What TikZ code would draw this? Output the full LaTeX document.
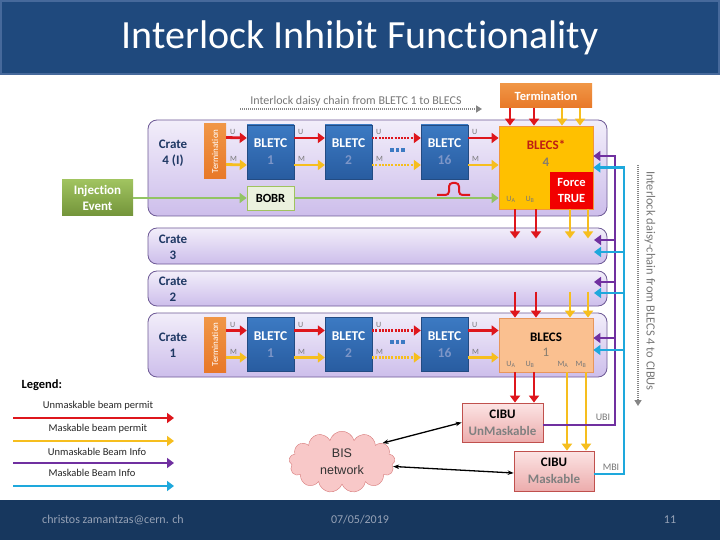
\documentclass[tikz,border=0pt]{standalone}
\usepackage{fontspec}
\setmainfont{Carlito}[Ligatures={NoCommon}]
\newfontfamily\arialf{Liberation Sans}
\usetikzlibrary{arrows.meta,shapes.symbols,calc}
\definecolor{cred}{RGB}{222,22,28}
\definecolor{cyel}{RGB}{246,190,30}
\definecolor{cpur}{RGB}{112,48,160}
\definecolor{ccya}{RGB}{30,168,220}
\definecolor{cgreen}{RGB}{146,196,100}
\definecolor{titlebg}{RGB}{31,73,125}
\definecolor{titlebd}{RGB}{70,105,155}
\definecolor{footbg}{RGB}{23,55,94}
\definecolor{foottx}{RGB}{150,162,182}
\definecolor{crateB}{RGB}{110,90,150}
\definecolor{crateT}{RGB}{242,238,250}
\definecolor{crateBo}{RGB}{205,190,235}
\definecolor{crateTxt}{RGB}{31,56,100}
\definecolor{termO}{RGB}{232,120,40}
\definecolor{termT}{RGB}{240,150,70}
\definecolor{bletcT}{RGB}{60,122,195}
\definecolor{bletcBo}{RGB}{40,92,160}
\definecolor{bletcB}{RGB}{35,75,130}
\definecolor{bletcN}{RGB}{125,150,200}
\definecolor{blecsS}{RGB}{255,192,0}
\definecolor{blecsSB}{RGB}{240,150,60}
\definecolor{blecsO}{RGB}{250,192,144}
\definecolor{blecsOB}{RGB}{232,150,90}
\definecolor{blecsTx}{RGB}{190,30,20}
\definecolor{numgray}{RGB}{135,125,110}
\definecolor{cibuT}{RGB}{252,228,228}
\definecolor{cibuBo}{RGB}{236,172,172}
\definecolor{cibuB}{RGB}{192,80,77}
\definecolor{injT}{RGB}{160,195,95}
\definecolor{injB}{RGB}{115,148,58}
\definecolor{bobrF}{RGB}{235,241,222}
\definecolor{cloudF}{RGB}{248,200,200}
\definecolor{cloudB}{RGB}{215,120,120}
\definecolor{lblgray}{RGB}{120,120,120}
\tikzset{
  crate/.style={draw=crateB, line width=0.8pt, rounded corners=9pt, top color=crateT, bottom color=crateBo, minimum width=459pt, inner sep=0pt},
  cratelbl/.style={font=\bfseries\fontsize{13}{16}\selectfont, text=crateTxt, align=center},
  termv/.style={top color=termT, bottom color=termO, minimum width=22pt, minimum height=55pt, inner sep=0pt},
  termvtext/.style={rotate=90, text=white, font=\fontsize{9}{9}\selectfont},
  bletc/.style={draw=bletcB, top color=bletcT, bottom color=bletcBo, minimum width=47pt, minimum height=54pt, inner sep=0pt, align=center, font=\bfseries\fontsize{13.5}{17}\selectfont, text=white},
  tipA/.style={-{Triangle[length=7pt,width=10pt]}},
  ua/.style={draw=cred, line width=2.8pt, tipA},
  ma/.style={draw=cyel, line width=2.8pt, tipA},
  pa/.style={draw=cpur, line width=2.8pt, tipA},
  ca/.style={draw=ccya, line width=2.8pt, tipA},
  dotl/.style={dash pattern=on 2pt off 1.2pt},
  umlbl/.style={font=\fontsize{8}{8}\selectfont, text=lblgray, inner sep=0.5pt},
  sublbl/.style={font=\fontsize{8}{8}\selectfont, text=lblgray, inner sep=0pt},
  cibu/.style={draw=cibuB, line width=0.8pt, top color=cibuT, bottom color=cibuBo, inner sep=0pt, align=center, font=\bfseries\fontsize{13}{17}\selectfont},
  legtxt/.style={font=\fontsize{10.5}{11}\selectfont, text=black!85},
  blue sq/.style={fill=bletcT, minimum size=3.5pt, inner sep=0pt},
}
\begin{document}
\begin{tikzpicture}[x=1pt,y=-1pt]
\useasboundingbox (0,0) rectangle (720,540);
% bars
\fill[white] (0,0) rectangle (720,540);
\draw[fill=titlebg, draw=titlebd, line width=2pt] (1,1) rectangle (719,74);
\node[text=white, font=\fontsize{40}{40}\selectfont] (title) at (360,38) {Interlock Inhibit Functionality};
\fill[footbg] (0,500) rectangle (720,540);
\node[text=foottx, font=\fontsize{12}{12}\selectfont] (mail) at (113,520) {christos zamantzas@cern. ch};
\node[text=foottx, font=\fontsize{12}{12}\selectfont] (date) at (360,520) {07/05/2019};
\node[text=foottx, font=\fontsize{12}{12}\selectfont] (page) at (670,520) {11};

% crates
\node[crate, minimum height=96pt] (crate4) at (377.5,168) {};
\node[crate, minimum height=36pt] (crate3) at (377.5,246) {};
\node[crate, minimum height=35pt] (crate2) at (377.5,288.5) {};
\node[crate, minimum height=64pt] (crate1) at (377.5,345) {};
\node[cratelbl] (l4) at (173,153) {Crate\\4 (I)};
\node[cratelbl] (l3) at (173,247) {Crate\\3};
\node[cratelbl] (l2) at (173,289) {Crate\\2};
\node[cratelbl] (l1) at (173,345) {Crate\\1};

% top label
\node[text=lblgray, font=\fontsize{12}{12}\selectfont] (toplbl) at (356,101) {Interlock daisy chain from BLETC 1 to BLECS};
\coordinate (td1) at (240,109);
\coordinate (td2) at (482,109);
\draw[draw=lblgray!90, line width=1.8pt, dash pattern=on 1pt off 1pt, -{Triangle[length=6pt,width=7pt]}] (td1) -- (td2);

% right label
\node[text=lblgray, font=\fontsize{12.5}{12.5}\selectfont, rotate=-90] (rlbl) at (650,281) {Interlock daisy-chain from BLECS 4 to CIBUs};
\coordinate (rd1) at (638,165);
\coordinate (rd2) at (638,406);
\draw[draw=lblgray!90, line width=1.8pt, dash pattern=on 1pt off 1pt, -{Triangle[length=6pt,width=7pt]}] (rd1) -- (rd2);

% crate 4 content
\node[termv] (t4) at (215,151.5) {};
\node[termvtext] (t4t) at (t4) {Termination};
\node[bletc] (b41) at (270.5,152) {BLETC\\{\color{bletcN}1}};
\node[bletc] (b42) at (348.5,152) {BLETC\\{\color{bletcN}2}};
\node[bletc] (b416) at (444.5,152) {BLETC\\{\color{bletcN}16}};
\node[draw=blecsSB, line width=0.8pt, fill=blecsS, minimum width=94pt, minimum height=83pt, inner sep=0pt] (blecs4) at (546,167.5) {};
\node[align=center, font=\bfseries\fontsize{13}{17}\selectfont, text=blecsTx] (blecs4t) at (546,153) {BLECS*\\{\color{numgray}4}};
\node[fill=red!95!black, minimum width=43pt, minimum height=37pt, inner sep=0pt, align=center, text=white, font=\bfseries\fontsize{12.5}{15.5}\selectfont] (force) at (571.5,190.5) {Force\\TRUE};
\node[sublbl] (ua4) at (511,199) {U\textsubscript{A}};
\node[sublbl] (ub4) at (530,199) {U\textsubscript{B}};
\node[blue sq] (d41) at (392,150) {};
\node[blue sq] (d42) at (397.5,150) {};
\node[blue sq] (d43) at (403,150) {};

\draw[ua] ([yshift=14pt]t4.east) -- ([yshift=14pt]b41.west) node[umlbl, pos=0, anchor=south west, xshift=2pt, yshift=1.5pt] {U};
\draw[ma] ([yshift=-13pt]t4.east) -- ([yshift=-13pt]b41.west) node[umlbl, pos=0, anchor=south west, xshift=2pt, yshift=1.5pt] {M};
\draw[ua] ([yshift=14pt]b41.east) -- ([yshift=14pt]b42.west) node[umlbl, pos=0, anchor=south west, xshift=2pt, yshift=1.5pt] {U};
\draw[ma] ([yshift=-13pt]b41.east) -- ([yshift=-13pt]b42.west) node[umlbl, pos=0, anchor=south west, xshift=2pt, yshift=1.5pt] {M};
\draw[ua, dotl] ([yshift=14pt]b42.east) -- ([yshift=14pt]b416.west) node[umlbl, pos=0, anchor=south west, xshift=2pt, yshift=1.5pt] {U};
\draw[ma, dotl] ([yshift=-13pt]b42.east) -- ([yshift=-13pt]b416.west) node[umlbl, pos=0, anchor=south west, xshift=2pt, yshift=1.5pt] {M};
\draw[ua] ([yshift=14pt]b416.east) -- ([yshift=14pt]b416.east -| blecs4.west) node[umlbl, pos=0, anchor=south west, xshift=2pt, yshift=1.5pt] {U};
\draw[ma] ([yshift=-13pt]b416.east) -- ([yshift=-13pt]b416.east -| blecs4.west) node[umlbl, pos=0, anchor=south west, xshift=2pt, yshift=1.5pt] {M};

% injection / BOBR
\node[top color=injT, bottom color=injB, minimum width=71pt, minimum height=36pt, inner sep=0pt, align=center, text=white, font=\bfseries\fontsize{13}{16}\selectfont] (inj) at (97.5,198) {Injection\\Event};
\node[draw=injT, line width=0.8pt, fill=bobrF, minimum width=47pt, minimum height=24pt, inner sep=0pt, font=\bfseries\fontsize{12.5}{12}\selectfont] (bobr) at (270.5,198) {BOBR};
\draw[draw=cgreen, line width=2.8pt, tipA] (inj.east) -- (bobr.west);
\draw[draw=cgreen, line width=2.8pt, tipA] (bobr.east) -- (bobr.east -| blecs4.west);
\draw[draw=cred, line width=2pt, rounded corners=3.5pt] (437,195) -- (449,195) -- (449,183) -- (459,183) -- (459,195) -- (470,195);

% top termination
\node[top color=termT, bottom color=termO, minimum width=92pt, minimum height=24pt, inner sep=0pt, text=white, font=\bfseries\fontsize{12.5}{12}\selectfont] (ttop) at (546,96) {Termination};
\draw[ua] ([xshift=-36pt]ttop.south) -- ([xshift=-36pt]blecs4.north);
\draw[ua] ([xshift=-12pt]ttop.south) -- ([xshift=-12pt]blecs4.north);
\draw[ma] ([xshift=16pt]ttop.south) -- ([xshift=16pt]blecs4.north);
\draw[ma] ([xshift=34pt]ttop.south) -- ([xshift=34pt]blecs4.north);

% crate 1 content
\node[termv] (t1) at (215,344.5) {};
\node[termvtext] (t1t) at (t1) {Termination};
\node[bletc] (b11) at (270.5,344.5) {BLETC\\{\color{bletcN}1}};
\node[bletc] (b12) at (348.5,344.5) {BLETC\\{\color{bletcN}2}};
\node[bletc] (b116) at (444.5,344.5) {BLETC\\{\color{bletcN}16}};
\node[draw=blecsOB, line width=0.8pt, fill=blecsO, minimum width=94pt, minimum height=54pt, inner sep=0pt, align=center, font=\bfseries\fontsize{13}{16}\selectfont, text=black] (blecs1) at (546,345) {BLECS\\[-1pt]{\color{numgray}\mdseries 1}};
\node[sublbl] (ua1) at (511,364) {U\textsubscript{A}};
\node[sublbl] (ub1) at (530,364) {U\textsubscript{B}};
\node[sublbl] (ma1) at (563,364) {M\textsubscript{A}};
\node[sublbl] (mb1) at (581,364) {M\textsubscript{B}};
\node[blue sq] (d11) at (392,342) {};
\node[blue sq] (d12) at (397.5,342) {};
\node[blue sq] (d13) at (403,342) {};

\draw[ua] ([yshift=14pt]t1.east) -- ([yshift=14pt]b11.west) node[umlbl, pos=0, anchor=south west, xshift=2pt, yshift=1.5pt] {U};
\draw[ma] ([yshift=-13pt]t1.east) -- ([yshift=-13pt]b11.west) node[umlbl, pos=0, anchor=south west, xshift=2pt, yshift=1.5pt] {M};
\draw[ua] ([yshift=14pt]b11.east) -- ([yshift=14pt]b12.west) node[umlbl, pos=0, anchor=south west, xshift=2pt, yshift=1.5pt] {U};
\draw[ma] ([yshift=-13pt]b11.east) -- ([yshift=-13pt]b12.west) node[umlbl, pos=0, anchor=south west, xshift=2pt, yshift=1.5pt] {M};
\draw[ua, dotl] ([yshift=14pt]b12.east) -- ([yshift=14pt]b116.west) node[umlbl, pos=0, anchor=south west, xshift=2pt, yshift=1.5pt] {U};
\draw[ma, dotl] ([yshift=-13pt]b12.east) -- ([yshift=-13pt]b116.west) node[umlbl, pos=0, anchor=south west, xshift=2pt, yshift=1.5pt] {M};
\draw[ua] ([yshift=14pt]b116.east) -- ([yshift=14pt]b116.east -| blecs1.west) node[umlbl, pos=0, anchor=south west, xshift=2pt, yshift=1.5pt] {U};
\draw[ma] ([yshift=-13pt]b116.east) -- ([yshift=-13pt]b116.east -| blecs1.west) node[umlbl, pos=0, anchor=south west, xshift=2pt, yshift=1.5pt] {M};

% arrows down from BLECS* into crate 3
\draw[ua] ([xshift=-31pt]blecs4.south) -- ++(0,29);
\draw[ua] ([xshift=-10pt]blecs4.south) -- ++(0,29);
\draw[ma] ([xshift=24pt]blecs4.south) -- ++(0,29);
\draw[ma] ([xshift=42pt]blecs4.south) -- ++(0,29);
% arrows from crate 2 into BLECS 1
\draw[ua] ([xshift=-31pt,yshift=26pt]blecs1.north) -- ([xshift=-31pt]blecs1.north);
\draw[ua] ([xshift=-10pt,yshift=26pt]blecs1.north) -- ([xshift=-10pt]blecs1.north);
\draw[ma] ([xshift=24pt,yshift=26pt]blecs1.north) -- ([xshift=24pt]blecs1.north);
\draw[ma] ([xshift=42pt,yshift=26pt]blecs1.north) -- ([xshift=42pt]blecs1.north);

% CIBUs
\node[cibu, minimum width=81pt, minimum height=39pt] (cibuU) at (502.5,422.5) {CIBU\\{\color{gray}UnMaskable}};
\node[cibu, minimum width=80pt, minimum height=40pt] (cibuM) at (554,471) {CIBU\\{\color{gray}Maskable}};
\coordinate (r1) at ([xshift=-31pt]blecs1.south);
\coordinate (r2) at ([xshift=-12pt]blecs1.south);
\coordinate (y1) at ([xshift=21pt]blecs1.south);
\coordinate (y2) at ([xshift=40pt]blecs1.south);
\draw[ua] (r1) -- (r1 |- cibuU.north);
\draw[ua] (r2) -- (r2 |- cibuU.north);
\draw[ma] (y1) -- (y1 |- cibuM.north);
\draw[ma] (y2) -- (y2 |- cibuM.north);

% purple and cyan feedback
\coordinate (p4) at ([yshift=11.5pt]blecs4.east);
\coordinate (pv) at (615,156);
\draw[pa] ([yshift=-2.5pt]cibuU.east) -| (pv) -- (p4);
\coordinate (c4) at (blecs4.east);
\coordinate (cv) at (624,167.5);
\draw[ca] ([yshift=-3pt]cibuM.east) -| (cv) -- (c4);
\node[font=\fontsize{10}{10}\selectfont, text=lblgray] (ubi) at (603,417) {UBI};
\node[font=\fontsize{10}{10}\selectfont, text=lblgray] (mbi) at (611,467) {MBI};
% branches
\coordinate (p3a) at (615,240); \coordinate (p3b) at (594,240);
\coordinate (c3a) at (624,252); \coordinate (c3b) at (594,252);
\coordinate (p2a) at (615,282); \coordinate (p2b) at (594,282);
\coordinate (c2a) at (624,293); \coordinate (c2b) at (594,293);
\coordinate (p1a) at (615,338); \coordinate (c1a) at (624,350);
\draw[pa] (p3a) -- (p3b);
\draw[ca] (c3a) -- (c3b);
\draw[pa] (p2a) -- (p2b);
\draw[ca] (c2a) -- (c2b);
\draw[pa] (p1a) -- ([yshift=7pt]blecs1.east);
\draw[ca] (c1a) -- ([yshift=-5pt]blecs1.east);

% BIS cloud
\node[cloud, cloud puffs=13, aspect=2, draw=cloudB, fill=cloudF, minimum width=106pt, minimum height=56pt, align=center, font=\arialf\fontsize{12.5}{17}\selectfont, text=black!80] (bis) at (342,462) {BIS\\network};
\draw[line width=1.3pt, {Stealth[length=6pt]}-{Stealth[length=6pt]}] (bis.25) -- (cibuU.west);
\draw[line width=1.3pt, {Stealth[length=6pt]}-{Stealth[length=6pt]}] (bis.-5) -- ([yshift=-2pt]cibuM.west);

% legend
\node[anchor=west, font=\bfseries\fontsize{12.5}{13}\selectfont] (leg) at (18,385) {Legend:};
\coordinate (la1) at (13,418); \coordinate (la2) at (174,418);
\coordinate (lb1) at (13,441); \coordinate (lb2) at (174,441);
\coordinate (lc1) at (13,463); \coordinate (lc2) at (174,463);
\coordinate (ld1) at (13,486); \coordinate (ld2) at (174,486);
\draw[ua] (la1) -- (la2);
\draw[ma] (lb1) -- (lb2);
\draw[pa] (lc1) -- (lc2);
\draw[ca] (ld1) -- (ld2);
\node[legtxt] (lta) at (98,406) {Unmaskable beam permit};
\node[legtxt] (ltb) at (98,429) {Maskable beam permit};
\node[legtxt] (ltc) at (97,452) {Unmaskable Beam Info};
\node[legtxt] (ltd) at (92,473) {Maskable Beam Info};
\end{tikzpicture}
\end{document}
